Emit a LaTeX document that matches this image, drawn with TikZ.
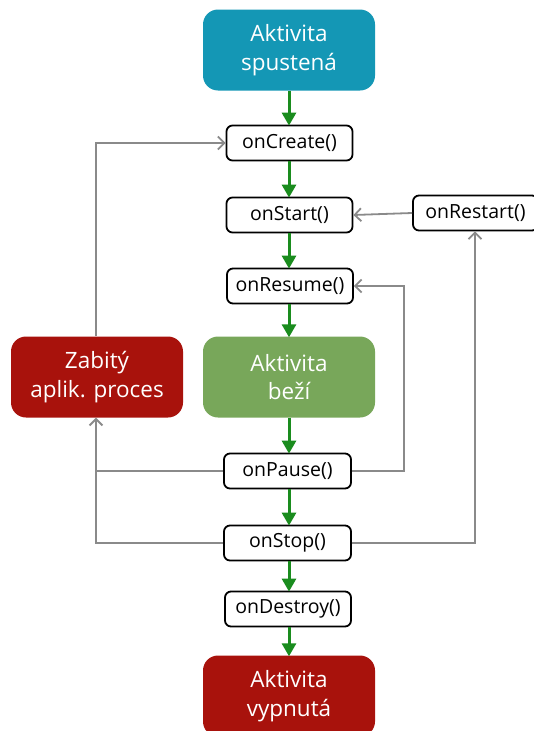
\documentclass[tikz,border=0pt]{standalone}
\usepackage{fontspec}
\setmainfont{Open Sans}
\usetikzlibrary{arrows.meta}
\definecolor{teal1}{HTML}{1497B5}
\definecolor{green1}{HTML}{78A75A}
\definecolor{red1}{HTML}{A8120C}
\definecolor{arrowgreen}{HTML}{1A8C1E}
\definecolor{linegray}{HTML}{8A8A8A}
\tikzset{
  bigbox/.style={rounded corners=15pt, minimum width=172pt, minimum height=81pt, text=white, align=center, font=\fontsize{22.5}{28.5}\selectfont, inner sep=0pt},
  smallbox/.style={draw=black, line width=1.8pt, fill=white, rounded corners=6pt, minimum width=126pt, minimum height=35pt, inner sep=0pt, font=\fontsize{19.5}{22}\selectfont},
  flow/.style={draw=arrowgreen, line width=3pt, -{Triangle[width=14pt,length=13pt]}, shorten >=-1pt},
  back/.style={draw=linegray, line width=1.8pt, -{Straight Barb[width=13pt,length=6.5pt,line width=1.8pt]}},
  plain/.style={draw=linegray, line width=1.8pt},
}
\begin{document}
\begin{tikzpicture}[x=1pt,y=-1pt]
\useasboundingbox (0,0) rectangle (533,731);
\node[bigbox, fill=teal1] (start) at (289,50) {Aktivita\\spustená};
\node[smallbox] (create) at (289.5,143) {onCreate()};
\node[smallbox] (startm) at (289.5,215) {onStart()};
\node[smallbox, minimum width=125pt] (restart) at (475.5,213) {onRestart()};
\node[smallbox] (resume) at (290,286) {onResume()};
\node[bigbox, fill=green1] (running) at (289,377) {Aktivita\\beží};
\node[bigbox, fill=red1] (killed) at (97,377) {Zabitý\\aplik. proces};
\node[smallbox, minimum width=127pt] (pause) at (287.5,471) {onPause()};
\node[smallbox, minimum width=127pt] (stop) at (287.5,543) {onStop()};
\node[smallbox] (destroy) at (288,609) {onDestroy()};
\node[bigbox, fill=red1] (shut) at (289,696) {Aktivita\\vypnutá};

\coordinate (cL1) at (96,143);
\coordinate (cL2) at (96,471);
\coordinate (cL3) at (96,543);
\coordinate (cR1) at (404,471);
\coordinate (cR2) at (404,286);
\coordinate (cR3) at (475,543);

\draw[flow] (start.south -| 289,0) -- (create.north -| 289,0);
\draw[flow] (create.south -| 289,0) -- (startm.north -| 289,0);
\draw[flow] (startm.south -| 289,0) -- (resume.north -| 289,0);
\draw[flow] (resume.south -| 289,0) -- (running.north -| 289,0);
\draw[flow] (running.south -| 289,0) -- (pause.north -| 289,0);
\draw[flow] (pause.south -| 289,0) -- (stop.north -| 289,0);
\draw[flow] (stop.south -| 289,0) -- (destroy.north -| 289,0);
\draw[flow] (destroy.south -| 289,0) -- (shut.north -| 289,0);

\draw[back] (restart.west) -- (startm.east);
\draw[back] (pause.east) -- (cR1) -- (cR2) -- (resume.east);
\draw[back] (stop.east) -- (cR3) -- (restart.south -| cR3);
\draw[plain] (pause.west) -- (cL2);
\draw[back] (stop.west) -- (cL3) -- (killed.south -| cL3);
\draw[back] (killed.north -| cL1) -- (cL1) -- (create.west);
\end{tikzpicture}
\end{document}
